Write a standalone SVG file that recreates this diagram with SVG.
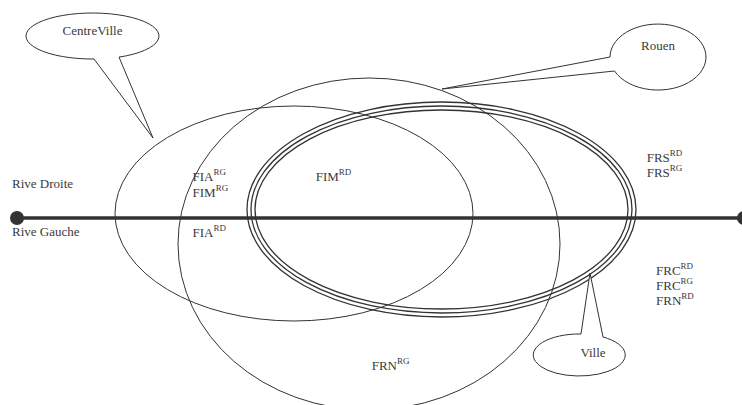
<svg xmlns="http://www.w3.org/2000/svg" width="742" height="405" viewBox="0 0 742 405">
<style>
.e{fill:none;stroke:#333;stroke-width:1}
.v{fill:none;stroke:#333;stroke-width:1.3}
.co{fill:#fff;stroke:#333;stroke-width:1;stroke-linejoin:miter}
text{font-family:'Liberation Serif','Times New Roman',serif;font-size:13px;fill:#3a3a3a}
tspan.s{font-size:9px}
.m{text-anchor:middle}
</style>
<rect width="742" height="405" fill="#fff"/>
<g id="VilleSet">
<ellipse class="v" cx="441.5" cy="209.5" rx="194.5" ry="107.5"/>
<ellipse class="v" cx="441.5" cy="209.5" rx="190.5" ry="103.5"/>
<ellipse class="v" cx="441.5" cy="209.5" rx="186.5" ry="99.5"/>
</g>
<g id="CentreVilleSet"><ellipse class="e" cx="294" cy="213.5" rx="179" ry="107.5"/></g>
<g id="RouenSet"><ellipse class="e" cx="369" cy="244" rx="191" ry="166"/></g>
<g id="connectors">
<line x1="17" y1="218" x2="744" y2="218" stroke="#333" stroke-width="3.5"/>
<circle cx="17" cy="218" r="7" fill="#333"/>
<circle cx="744" cy="218" r="7" fill="#333"/>
</g>
<g id="CentreVille">
<path class="co" d="M 94 59 A 66.5 23 0 1 1 119 57.1 L 153 138 Z"/>
<text class="m" x="92.5" y="35" font-family="Liberation Serif, serif">CentreVille</text>
</g>
<g id="Rouen">
<path class="co" d="M 610 57 A 48 33 0 1 1 614.5 71 L 442 89 Z"/>
<text class="m" x="658" y="50" font-family="Liberation Serif, serif">Rouen</text>
</g>
<g id="Ville">
<path class="co" d="M 603 337 A 46 21 0 1 1 581 334 L 590 273 Z"/>
<text class="m" x="593" y="356.5" font-family="Liberation Serif, serif">Ville</text>
</g>
<g id="labels" font-family="Liberation Serif, serif">
<text x="12" y="187.5">Rive Droite</text>
<text x="12" y="235.5">Rive Gauche</text>
<text x="192.5" y="180.7">FIA<tspan class="s" dy="-6">RG</tspan></text>
<text x="192.5" y="196.5">FIM<tspan class="s" dy="-6">RG</tspan></text>
<text x="192.5" y="237">FIA<tspan class="s" dy="-6">RD</tspan></text>
<text x="315.7" y="180.5">FIM<tspan class="s" dy="-6">RD</tspan></text>
<text x="646.7" y="161.5">FRS<tspan class="s" dy="-6">RD</tspan></text>
<text x="646.7" y="176.5">FRS<tspan class="s" dy="-6">RG</tspan></text>
<text x="656" y="274.5">FRC<tspan class="s" dy="-6">RD</tspan></text>
<text x="656" y="289.5">FRC<tspan class="s" dy="-6">RG</tspan></text>
<text x="656" y="305">FRN<tspan class="s" dy="-6">RD</tspan></text>
<text x="371.7" y="369.5">FRN<tspan class="s" dy="-6">RG</tspan></text>
</g>
</svg>
